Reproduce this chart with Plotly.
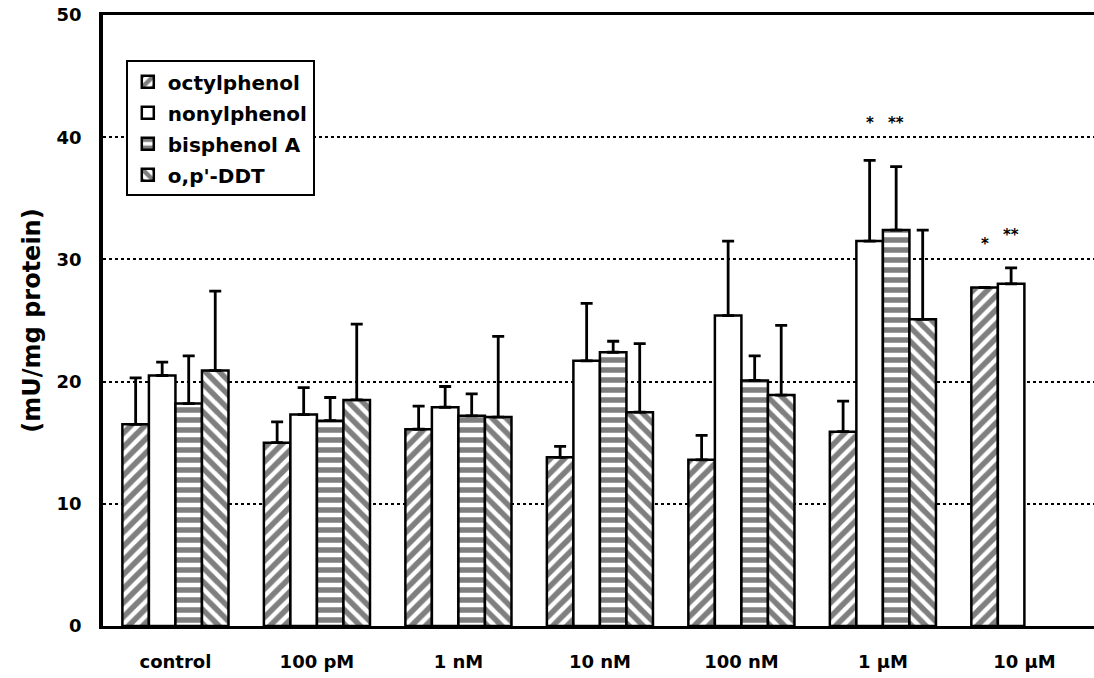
import plotly.graph_objects as go

categories = ["control", "100 pM", "1 nM", "10 nM", "100 nM", "1 µM", "10 µM"]
series_names = ["octylphenol", "nonylphenol", "bisphenol A", "o,p'-DDT"]

octylphenol = [16.5, 15.0, 16.1, 13.8, 13.6, 15.9, 27.7]
octylphenol_err = [3.8, 1.7, 1.9, 0.9, 2.0, 2.5, 0.0]
nonylphenol = [20.5, 17.3, 17.9, 21.7, 25.4, 31.5, 28.0]
nonylphenol_err = [1.1, 2.2, 1.7, 4.7, 6.1, 6.6, 1.3]
bisphenolA = [18.2, 16.8, 17.2, 22.4, 20.1, 32.4, None]
bisphenolA_err = [3.9, 1.9, 1.8, 0.9, 2.0, 5.2, None]
ddt = [20.9, 18.5, 17.1, 17.5, 18.9, 25.1, None]
ddt_err = [6.5, 6.2, 6.6, 5.6, 5.7, 7.3, None]

y_ticks = [0, 10, 20, 30, 40, 50]

# significance marks: (category index, series index, label, y)
sig_marks = [(5, 1, "*", 41.2), (5, 2, "**", 41.2), (6, 0, "*", 31.3), (6, 1, "**", 32.0)]

values = [octylphenol, nonylphenol, bisphenolA, ddt]
errors = [octylphenol_err, nonylphenol_err, bisphenolA_err, ddt_err]
patterns = ["/", "", "-", "\\"]
FONT = "DejaVu Sans"

BARGAP = 0.25
fig = go.Figure()
for i, name in enumerate(series_names):
    fig.add_trace(go.Bar(
        x=categories, y=values[i], name=name,
        legendgroup=name,
        marker=dict(color="white",
                    line=dict(color="black", width=2.5),
                    pattern=dict(shape=patterns[i], fgcolor="black", bgcolor="white",
                                 size=10, solidity=0.55, fillmode="overlay")),
        error_y=dict(type="data", array=errors[i], arrayminus=[0]*len(categories),
                     symmetric=False, color="black", thickness=2.8, width=6),
    ))

barw = (1 - BARGAP) / 4
for ci, si, lab, yv in sig_marks:
    fig.add_annotation(x=ci + (si - 1.5) * barw, y=yv, text=lab, showarrow=False,
                       font=dict(size=15, color="black", family=FONT, weight="bold"),
                       xanchor="center", yanchor="middle")

fig.update_layout(
    width=1094, height=678,
    margin=dict(l=103, r=0, t=15, b=52),
    paper_bgcolor="white", plot_bgcolor="white",
    barmode="group", bargap=BARGAP, bargroupgap=0,
    font=dict(family=FONT, color="black"),
    showlegend=True,
    legend=dict(x=0.023, y=0.926, xanchor="left", yanchor="top",
                bgcolor="white", bordercolor="black", borderwidth=2,
                font=dict(size=20, family=FONT, weight="bold"),
                traceorder="grouped", tracegroupgap=2, itemwidth=30),
)
fig.update_xaxes(
    type="category", range=[-0.512, 6.492],
    showline=True, linecolor="black", linewidth=3, mirror=True,
    showgrid=False, ticks="", ticklabelstandoff=17,
    tickfont=dict(size=18, family=FONT, weight="bold"),
)
fig.update_yaxes(
    range=[0, 50], tickvals=y_ticks,
    showline=True, linecolor="black", linewidth=3.5,
    showgrid=True, gridcolor="black", griddash="dot", gridwidth=1.5,
    zeroline=False, ticks="", ticklabelstandoff=14,
    tickfont=dict(size=18, family=FONT, weight="bold"),
    title=dict(text="(mU/mg protein)", standoff=10,
               font=dict(size=24, family=FONT, weight="bold")),
)

fig.write_html("out.html")
